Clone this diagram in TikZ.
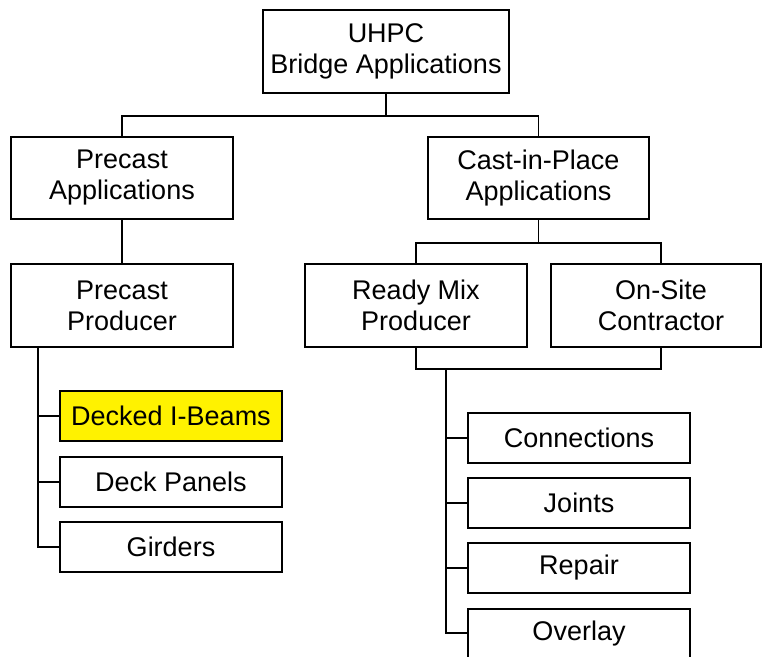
\documentclass[tikz,border=0pt]{standalone}
\usepackage{fontspec}
\setmainfont{Liberation Sans}
\usetikzlibrary{calc}
\tikzset{
  box/.style={draw=black, line width=1.5pt, fill=white, inner sep=0pt, align=center,
    font=\fontsize{27}{31}\selectfont, minimum width=222pt},
  bigbox/.style={box, minimum height=83pt},
  leaf/.style={box, minimum height=50pt},
  hl/.style={fill=yellow},
  link/.style={draw=black, line width=1.5pt}
}
\begin{document}
\begin{tikzpicture}[x=1pt,y=-1pt]
\clip (0,0) rectangle (762,656);
\fill[white] (0,0) rectangle (762,656);
% top level
\node[bigbox, minimum width=246pt] (uhpc) at (386,51.5) {UHPC\\Bridge Applications};
\node[bigbox, minimum height=82pt] (pa) at (122,178) {Precast\\Applications};
\node[bigbox, minimum height=82pt, minimum width=221pt] (cip) at (538.5,178) {Cast-in-Place\\Applications};
\node[bigbox] (pp) at (122,305.5) {Precast\\Producer};
\node[bigbox] (rm) at (416,305.5) {Ready Mix\\Producer};
\node[bigbox, minimum width=210pt] (os) at (656,305.5) {\hspace*{10pt}On-Site\\\hspace*{10pt}Contractor};
% precast leaves
\node[leaf, hl] (dib) at (171,416) {Decked I-Beams};
\node[leaf] (dp) at (171,482) {Deck Panels};
\node[leaf] (gd) at (171,547) {Girders};
% cast-in-place leaves
\node[leaf] (cn) at (579,438) {Connections};
\node[leaf] (jt) at (579,503) {Joints};
\node[leaf] (rp) at (579,568) {Repair};
\node[leaf] (ov) at (579,634) {Overlay};
% connectors
\coordinate (osn) at ($(os.north)+(5,0)$);
\coordinate (oss) at ($(os.south)+(5,0)$);
\draw[link] (uhpc.south) -- ++(0,22) -| (pa.north);
\draw[link] (uhpc.south) -- ++(0,22) -| (cip.north);
\draw[link] (pa.south) -- (pp.north);
\draw[link] (cip.south) -- ++(0,23) -| (rm.north);
\draw[link] (cip.south) -- ++(0,23) -| (osn);
\draw[link] (rm.south) -- ++(0,21) -| (oss);
\coordinate (ps) at (38,347);
\draw[link] (ps) |- (dib.west);
\draw[link] (ps) |- (dp.west);
\draw[link] (ps) |- (gd.west);
\coordinate (rs) at (446,368);
\draw[link] (rs) |- (cn.west);
\draw[link] (rs) |- (jt.west);
\draw[link] (rs) |- (rp.west);
\draw[link] (rs) |- ($(ov.west)+(0,-1)$);
\end{tikzpicture}
\end{document}
